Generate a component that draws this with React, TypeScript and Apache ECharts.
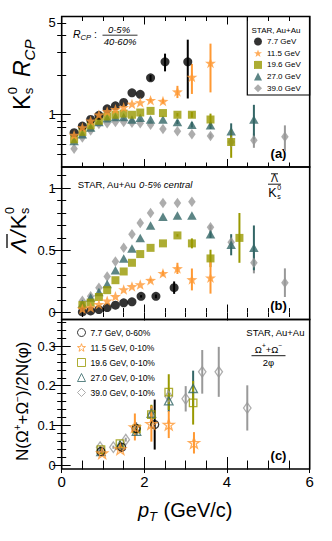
import React, { useEffect, useRef } from "react";
import * as echarts from "echarts";

const FONT = "'Liberation Sans', Arial, Helvetica, sans-serif";

// ---------- series metadata ----------
const ENERGY = ["7.7 GeV", "11.5 GeV", "19.6 GeV", "27.0 GeV", "39.0 GeV"];
const CENT_C = ["0-60%", "0-10%", "0-10%", "0-10%", "0-10%"];
const COLORS = ["#000000", "#ff9933", "#999900", "#336666", "#999999"];

// ---------- panel (a): K0s R_CP ----------
const A_X_77 = [0.3, 0.5, 0.7, 0.9, 1.1, 1.3, 1.5, 1.7, 1.9, 2.15, 2.5, 3.05];
const A_Y_77 = [0.73, 0.82, 0.92, 0.99, 1.11, 1.17, 1.24, 1.47, 1.43, 1.91, 2.53, 2.53];
const A_E_77 = [0, 0, 0, 0, 0, 0, 0, 0, 0, 0.1, 0.39, 1.2];
const A_X_115 = [0.3, 0.5, 0.7, 0.9, 1.1, 1.3, 1.5, 1.7, 1.9, 2.15, 2.45, 2.8, 3.15, 3.6];
const A_Y_115 = [0.7, 0.8, 0.9, 1.0, 1.06, 1.1, 1.14, 1.21, 1.24, 1.29, 1.27, 1.5, 1.94, 2.48];
const A_E_115 = [0, 0, 0, 0, 0, 0, 0, 0, 0, 0.04, 0.05, 0.16, 0.5, 1.0];
const A_X_196 = [0.3, 0.5, 0.7, 0.9, 1.1, 1.3, 1.5, 1.7, 1.9, 2.15, 2.45, 2.8, 3.15, 3.6, 4.1];
const A_Y_196 = [0.65, 0.74, 0.83, 0.9, 0.97, 1.0, 1.02, 1.0, 1.04, 1.07, 1.03, 1.0, 1.0, 0.92, 0.62];
const A_E_196 = [0, 0, 0, 0, 0, 0, 0, 0, 0, 0, 0, 0.03, 0.05, 0.1, 0.15];
const A_X_270 = [0.3, 0.5, 0.7, 0.9, 1.1, 1.3, 1.5, 1.7, 1.9, 2.15, 2.45, 2.8, 3.15, 3.6, 4.1, 4.65];
const A_Y_270 = [0.63, 0.71, 0.8, 0.88, 0.94, 0.96, 0.96, 0.92, 0.95, 0.92, 0.92, 0.88, 0.84, 0.83, 0.75, 0.92];
const A_E_270 = [0, 0, 0, 0, 0, 0, 0, 0, 0, 0, 0, 0.03, 0.04, 0.05, 0.11, 0.27];
const A_X_390 = [0.3, 0.5, 0.7, 0.9, 1.1, 1.3, 1.5, 1.7, 1.9, 2.15, 2.45, 2.8, 3.15, 3.6, 4.1, 4.65, 5.4];
const A_Y_390 = [0.55, 0.67, 0.76, 0.85, 0.86, 0.88, 0.88, 0.87, 0.86, 0.84, 0.78, 0.75, 0.71, 0.69, 0.62, 0.64, 0.68];
const A_E_390 = [0, 0, 0, 0, 0, 0, 0, 0, 0, 0, 0, 0, 0, 0.03, 0.05, 0.08, 0.15];

// ---------- panel (b): anti-Lambda / K0s ----------
const B_X_77 = [0.5, 0.7, 0.9, 1.1, 1.3, 1.5, 1.7, 1.92, 2.28, 2.72];
const B_Y_77 = [0.005, 0.013, 0.024, 0.04, 0.059, 0.078, 0.086, 0.13, 0.13, 0.2];
const B_E_77 = [0, 0, 0, 0, 0, 0, 0, 0.01, 0.015, 0.05];
const B_X_115 = [0.5, 0.7, 0.9, 1.1, 1.3, 1.5, 1.7, 1.9, 2.15, 2.45, 2.8, 3.15, 3.6];
const B_Y_115 = [0.03, 0.04, 0.067, 0.094, 0.13, 0.185, 0.21, 0.225, 0.26, 0.315, 0.355, 0.266, 0.28];
const B_E_115 = [0, 0, 0, 0, 0, 0, 0, 0, 0.01, 0.02, 0.045, 0.088, 0.128];
const B_X_196 = [0.5, 0.7, 0.9, 1.1, 1.3, 1.5, 1.7, 1.9, 2.15, 2.45, 2.8, 3.15, 3.6, 4.3];
const B_Y_196 = [0.06, 0.08, 0.125, 0.18, 0.26, 0.33, 0.4, 0.47, 0.52, 0.556, 0.62, 0.556, 0.435, 0.6];
const B_E_196 = [0, 0, 0, 0, 0, 0, 0, 0, 0, 0, 0.01, 0.04, 0.07, 0.2];
const B_X_270 = [0.5, 0.7, 0.9, 1.1, 1.3, 1.5, 1.7, 1.9, 2.15, 2.45, 2.8, 3.15, 3.6, 4.1, 4.65];
const B_Y_270 = [0.07, 0.12, 0.166, 0.23, 0.34, 0.435, 0.515, 0.6, 0.7, 0.77, 0.78, 0.78, 0.63, 0.545, 0.52];
const B_E_270 = [0, 0, 0, 0, 0, 0, 0, 0, 0, 0, 0, 0, 0.03, 0.085, 0.18];
const B_X_390 = [0.5, 0.7, 0.9, 1.1, 1.3, 1.5, 1.7, 1.9, 2.15, 2.45, 2.8, 3.15, 3.6, 4.1, 4.65, 5.4];
const B_Y_390 = [0.094, 0.13, 0.2, 0.29, 0.41, 0.52, 0.63, 0.72, 0.8, 0.88, 0.88, 0.89, 0.685, 0.565, 0.4, 0.24];
const B_E_390 = [0, 0, 0, 0, 0, 0, 0, 0, 0, 0, 0, 0, 0.02, 0.03, 0.085, 0.115];

// ---------- panel (c): (Omega+ + Omega-) / 2 phi ----------
const C_X_77 = [0.95, 1.45, 1.8, 2.25];
const C_Y_77 = [0.034, 0.045, 0.092, 0.102];
const C_E_77 = [0.005, 0.008, 0.015, 0.063];
const C_X_115 = [0.98, 1.42, 1.77, 2.17, 2.59, 3.2];
const C_Y_115 = [0.03, 0.04, 0.096, 0.104, 0.102, 0.056];
const C_E_115 = [0.005, 0.006, 0.034, 0.045, 0.034, 0.027];
const C_X_196 = [0.95, 1.41, 1.81, 2.17, 2.59, 3.18];
const C_Y_196 = [0.039, 0.054, 0.091, 0.127, 0.184, 0.157];
const C_E_196 = [0.005, 0.007, 0.012, 0.025, 0.045, 0.055];
const C_X_270 = [0.95, 1.41, 1.81, 2.17, 2.59, 3.18];
const C_Y_270 = [0.034, 0.051, 0.085, 0.13, 0.162, 0.193];
const C_E_270 = [0.005, 0.008, 0.01, 0.02, 0.028, 0.045];
const C_X_390 = [0.93, 1.25, 1.55, 1.81, 2.17, 2.59, 3.0, 3.4, 3.8, 4.49];
const C_Y_390 = [0.045, 0.045, 0.064, 0.091, 0.127, 0.173, 0.167, 0.235, 0.235, 0.144];
const C_E_390 = [0.004, 0.004, 0.005, 0.008, 0.015, 0.02, 0.032, 0.055, 0.063, 0.057];

// ---------- axis ticks ----------
const X_MAJOR = [0, 2, 4, 6];
const X_MINOR = [0.5, 1, 1.5, 2.5, 3, 3.5, 4.5, 5, 5.5];
const YA_MAJOR = [1];
const YA_MINOR = [0.5, 0.6, 0.7, 0.8, 0.9, 2, 3, 4, 5];
const YA_LABELS = [1, 5];
const YB_MAJOR = [0, 0.5, 1];
const YB_MINOR = [0.1, 0.2, 0.3, 0.4, 0.6, 0.7, 0.8, 0.9, 1.1];
const YC_MAJOR = [0, 0.1, 0.2, 0.3];
const YC_MINOR = [0.02, 0.04, 0.06, 0.08, 0.12, 0.14, 0.16, 0.18, 0.22, 0.24, 0.26, 0.28, 0.32, 0.34, 0.36];

const STAR =
  "path://M50,0 L61.76,33.82 L97.55,34.55 L69.02,56.18 L79.39,90.45 L50,70 L20.61,90.45 L30.98,56.18 L2.45,34.55 L38.24,33.82 Z";

const GRIDS = [
  { left: 61.7, top: 16.5, width: 248, height: 150.5 },
  { left: 61.7, top: 167, width: 248, height: 152.5 },
  { left: 61.7, top: 319.5, width: 248, height: 149.5 },
];

let measureCtx: CanvasRenderingContext2D | null = null;
function tw(text: string, size: number, it = false, bd = false) {
  if (!measureCtx) measureCtx = document.createElement("canvas").getContext("2d");
  measureCtx!.font = `${it ? "italic " : ""}${bd ? "bold " : ""}${size}px ${FONT}`;
  return measureCtx!.measureText(text).width;
}

type Piece = { t: string; s: number; it?: boolean; bd?: boolean; dy?: number; gap?: number; at?: number; noAdv?: boolean };

function runPieces(pieces: Piece[]) {
  let x = 0;
  const children: any[] = [];
  for (const p of pieces) {
    if (p.at !== undefined) x = p.at;
    x += p.gap || 0;
    children.push({
      type: "text",
      x,
      y: (p.dy || 0) - 0.3465 * p.s,
      style: {
        text: p.t,
        fontSize: p.s,
        fontFamily: FONT,
        fontStyle: p.it ? "italic" : "normal",
        fontWeight: p.bd ? "bold" : "normal",
        fill: "#000",
        align: "left",
        verticalAlign: "middle",
      },
    });
    if (!p.noAdv) x += tw(p.t, p.s, p.it, p.bd);
  }
  return { children, width: x };
}

function textGroup(gx: number, gy: number, pieces: Piece[], rotation = 0, extra: any[] = [], center = false) {
  const r = runPieces(pieces);
  return {
    type: "group",
    x: center ? gx - r.width / 2 : gx,
    y: gy,
    rotation,
    children: [...r.children, ...extra],
  };
}

function hline(x1: number, x2: number, y: number, w = 0.9) {
  return { type: "line", shape: { x1, y1: y, x2, y2: y }, style: { stroke: "#000", lineWidth: w } };
}

function mkAxes(kind: "x" | "y", g: number) {
  const axes: any[] = [];
  const positions = kind === "x" ? ["bottom", "top"] : ["left", "right"];
  let major: number[], minor: number[], labels: number[], extra: any;
  if (kind === "x") {
    major = X_MAJOR;
    minor = X_MINOR;
    labels = X_MAJOR;
    extra = { type: "value", min: 0, max: 6 };
  } else if (g === 0) {
    major = YA_MAJOR;
    minor = YA_MINOR;
    labels = YA_LABELS;
    extra = { type: "log", logBase: 10, min: 0.4, max: 5.6 };
  } else if (g === 1) {
    major = YB_MAJOR;
    minor = YB_MINOR;
    labels = YB_MAJOR;
    extra = { type: "value", min: -0.056, max: 1.17 };
  } else {
    major = YC_MAJOR;
    minor = YC_MINOR;
    labels = YC_MAJOR;
    extra = { type: "value", min: -0.01, max: 0.367 };
  }
  positions.forEach((pos, pi) => {
    [0, 1].forEach((isMinor) => {
      const showLabel = pi === 0 && isMinor === 0 && (kind === "y" || g === 2);
      axes.push({
        ...extra,
        gridIndex: g,
        position: pos,
        axisLine: { show: false },
        splitLine: { show: false },
        axisTick: {
          show: true,
          inside: true,
          length: isMinor ? 4.5 : kind === "x" ? 8 : 9,
          customValues: isMinor ? minor : major,
          lineStyle: { color: "#000", width: 1 },
        },
        axisLabel: {
          show: showLabel,
          customValues: labels,
          fontSize: kind === "x" ? 15 : 13,
          fontFamily: FONT,
          color: "#000",
          margin: kind === "x" ? 5 : 6,
        },
      });
    });
  });
  return axes;
}

type Spec = { xs: number[]; ys: number[]; es: number[]; k: number };

const SYMS = [
  { sym: "circle", size: 9, openSize: 8 },
  { sym: STAR, size: [11, 10.5], openSize: [11, 10.5] },
  { sym: "rect", size: 8, openSize: 7.5 },
  { sym: "triangle", size: [9.5, 8.5], openSize: [8.5, 8] },
  { sym: "diamond", size: [7.5, 10.5], openSize: [7.5, 10.5] },
];

function panelSeries(g: number, specs: Spec[], open: boolean, names: string[]) {
  const out: any[] = [];
  specs.forEach((sp) => {
    const color = COLORS[sp.k];
    const data = sp.xs
      .map((x, i) => [x, sp.ys[i] - sp.es[i], sp.ys[i] + sp.es[i], sp.es[i]])
      .filter((d) => d[3] > 0);
    out.push({
      type: "custom",
      name: "err" + g + "_" + sp.k,
      xAxisIndex: 4 * g,
      yAxisIndex: 4 * g,
      data,
      z: 2,
      silent: true,
      encode: { x: 0, y: [1, 2] },
      renderItem: (_p: any, api: any) => {
        const p1 = api.coord([api.value(0), api.value(1)]);
        const p2 = api.coord([api.value(0), api.value(2)]);
        return {
          type: "line",
          shape: { x1: p1[0], y1: p1[1], x2: p2[0], y2: p2[1] },
          style: { stroke: color, lineWidth: 2 },
        };
      },
    });
  });
  specs.forEach((sp) => {
    const color = COLORS[sp.k];
    const s = SYMS[sp.k];
    out.push({
      type: "scatter",
      name: names[sp.k],
      xAxisIndex: 4 * g,
      yAxisIndex: 4 * g,
      data: sp.xs.map((x, i) => [x, sp.ys[i]]),
      symbol: s.sym,
      symbolSize: open ? s.openSize : s.size,
      itemStyle: open
        ? { color: "rgba(255,255,255,0)", borderColor: color, borderWidth: 1.3 }
        : { color },
      z: 3,
      silent: true,
    });
  });
  return out;
}

export default function App() {
  const ref = useRef<HTMLDivElement>(null);
  useEffect(() => {
    if (!ref.current) return;
    const chart = echarts.init(ref.current, null, { renderer: "svg" });

    const namesA = ENERGY;
    const namesB = ENERGY.map((e) => "b " + e);
    const namesC = ENERGY.map((e, i) => e + ", " + CENT_C[i]);
    const order = [4, 3, 2, 0, 1];

    const specA: Spec[] = order.map((k) => ({
      k,
      xs: [A_X_77, A_X_115, A_X_196, A_X_270, A_X_390][k],
      ys: [A_Y_77, A_Y_115, A_Y_196, A_Y_270, A_Y_390][k],
      es: [A_E_77, A_E_115, A_E_196, A_E_270, A_E_390][k],
    }));
    const specB: Spec[] = order.map((k) => ({
      k,
      xs: [B_X_77, B_X_115, B_X_196, B_X_270, B_X_390][k],
      ys: [B_Y_77, B_Y_115, B_Y_196, B_Y_270, B_Y_390][k],
      es: [B_E_77, B_E_115, B_E_196, B_E_270, B_E_390][k],
    }));
    const specC: Spec[] = order.map((k) => ({
      k,
      xs: [C_X_77, C_X_115, C_X_196, C_X_270, C_X_390][k],
      ys: [C_Y_77, C_Y_115, C_Y_196, C_Y_270, C_Y_390][k],
      es: [C_E_77, C_E_115, C_E_196, C_E_270, C_E_390][k],
    }));

    const xAxis: any[] = [];
    const yAxis: any[] = [];
    [0, 1, 2].forEach((g) => {
      xAxis.push(...mkAxes("x", g));
      yAxis.push(...mkAxes("y", g));
    });

    const R = Math.PI / 2;
    const graphic: any[] = [
      // legend box (a)
      {
        type: "rect",
        shape: { x: 247.3, y: 16.5, width: 62.4, height: 78.5 },
        style: { fill: "none", stroke: "#000", lineWidth: 1.2 },
        z: 5,
      },
      textGroup(251.5, 33, [{ t: "STAR, Au+Au", s: 8 }]),
      // R_CP label
      textGroup(73, 38, [
        { t: "R", s: 10.5, it: true },
        { t: "CP", s: 7.5, it: true, dy: 2.5 },
        { t: ":", s: 10.5, gap: 3 },
      ]),
      textGroup(119, 33, [{ t: "0-5%", s: 9.5, it: true }], 0, [], true),
      hline(102.5, 137.5, 35.2, 0.8),
      textGroup(120, 44.5, [{ t: "40-60%", s: 9.5, it: true }], 0, [], true),
      // panel tags
      { type: "text", x: 278.5, y: 153.3, style: { text: "(a)", fontSize: 13, fontWeight: "bold", fontFamily: FONT, fill: "#000", align: "center", verticalAlign: "middle" } },
      { type: "text", x: 278.5, y: 305, style: { text: "(b)", fontSize: 13, fontWeight: "bold", fontFamily: FONT, fill: "#000", align: "center", verticalAlign: "middle" } },
      { type: "text", x: 278.5, y: 455.7, style: { text: "(c)", fontSize: 13, fontWeight: "bold", fontFamily: FONT, fill: "#000", align: "center", verticalAlign: "middle" } },
      // panel b header
      textGroup(77.7, 187.5, [
        { t: "STAR, Au+Au ", s: 9.5 },
        { t: "0-5% central", s: 9.5, it: true },
      ]),
      // panel b fraction
      textGroup(274.5, 182, [{ t: "Λ", s: 10.5 }], 0, [], true),
      hline(271, 278, 173.8, 0.9),
      hline(268, 281, 184.2, 0.9),
      textGroup(268.3, 197.5, [
        { t: "K", s: 12.5 },
        { t: "0", s: 7, dy: -8, noAdv: true, gap: 0.5 },
        { t: "s", s: 7, dy: 1.5 },
      ]),
      // panel c header
      { type: "text", x: 304.5, y: 332.3, style: { text: "STAR, Au+Au", fontSize: 9.5, fontFamily: FONT, fill: "#000", align: "right", verticalAlign: "middle" } },
      textGroup(268.5, 352.5, [
        { t: "Ω", s: 9.5 },
        { t: "+", s: 6.5, dy: -4.5 },
        { t: "+Ω", s: 9.5 },
        { t: "−", s: 6.5, dy: -4.5 },
      ], 0, [], true),
      hline(251.5, 285.5, 355.7, 0.9),
      textGroup(268.5, 366, [{ t: "2φ", s: 9.5 }], 0, [], true),
      // y-axis titles (rotated)
      textGroup(30, 110, [
        { t: "K", s: 23 },
        { t: "0", s: 13, dy: -13, noAdv: true, gap: 0.5 },
        { t: "s", s: 13, dy: 3.5 },
        { t: "R", s: 23, it: true, at: 33 },
        { t: "CP", s: 15, it: true, dy: 4.5 },
      ], R),
      textGroup(26.5, 253, [
        { t: "Λ", s: 22, it: true },
        { t: "/", s: 22, it: true, gap: 1.5 },
        { t: "K", s: 22, gap: 1.5 },
        { t: "0", s: 12.5, dy: -12.5, noAdv: true, gap: 0.5 },
        { t: "s", s: 12.5, dy: 3 },
      ], R, [hline(5, 19, -19.5, 1.3)]),
      textGroup(28.5, 461, [
        { t: "N(Ω", s: 17 },
        { t: "+", s: 10, dy: -8 },
        { t: "+Ω", s: 17 },
        { t: "−", s: 10, dy: -8 },
        { t: ")/2N(φ)", s: 17 },
      ], R),
      // x-axis title
      textGroup(138, 516.5, [
        { t: "p", s: 20, it: true },
        { t: "T", s: 13, it: true, dy: 5 },
        { t: " (GeV/c)", s: 20, gap: 1 },
      ]),
    ];

    const option: any = {
      animation: false,
      backgroundColor: "#fff",
      textStyle: { fontFamily: FONT },
      grid: GRIDS.map((g) => ({ ...g, show: true, borderColor: "#000", borderWidth: 1.6, backgroundColor: "transparent" })),
      xAxis,
      yAxis,
      legend: [
        {
          data: namesA,
          orient: "vertical",
          left: 254,
          top: 37.5,
          itemWidth: 8,
          itemHeight: 8,
          itemGap: 3.7,
          padding: 0,
          selectedMode: false,
          textStyle: { fontSize: 8, fontFamily: FONT, color: "#000" },
        },
        {
          data: namesC,
          orient: "vertical",
          left: 77,
          top: 328,
          itemWidth: 8,
          itemHeight: 8,
          itemGap: 6,
          padding: 0,
          selectedMode: false,
          itemStyle: { borderWidth: 1 },
          textStyle: { fontSize: 8.5, fontFamily: FONT, color: "#000" },
        },
      ],
      series: [
        ...panelSeries(0, specA, false, namesA),
        ...panelSeries(1, specB, false, namesB),
        ...panelSeries(2, specC, true, namesC),
      ],
      graphic: { elements: graphic },
    };
    chart.setOption(option);
    return () => chart.dispose();
  }, []);
  return <div ref={ref} style={{ position: "absolute", left: 0, top: 0, width: 332, height: 541 }} />;
}
